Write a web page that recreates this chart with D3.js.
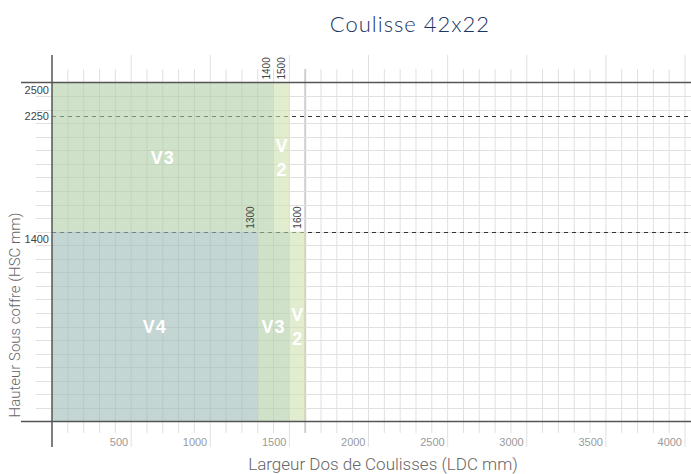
<!DOCTYPE html>
<html>
<head>
<meta charset="utf-8">
<script src="https://cdn.jsdelivr.net/npm/d3@7"></script>
<style>
  body { margin: 0; background: #fff; }
  svg { display: block; }
  text { font-family: 'Liberation Sans', Arial, sans-serif; }
</style>
</head>
<body>
<svg width="691" height="474"></svg>
<script>
// zones in mm
var zoneLabels = ['V3', 'V2', 'V4', 'V3', 'V2'];
var zoneX0 = [0, 1400, 0, 1300, 1500];
var zoneX1 = [1400, 1500, 1300, 1500, 1600];
var zoneY0 = [1400, 1400, 0, 0, 0];
var zoneY1 = [2500, 2500, 1400, 1400, 1400];
var zoneKind = ['v3', 'v2', 'v4', 'v3', 'v2'];

var xTickLabels = [500, 1000, 1500, 2000, 2500, 3000, 3500, 4000];
var yTickLabels = [1400, 2250, 2500];
var dashedLevels = [2250, 1400];
// rotated markers: value and the level they sit on
var markX = [1400, 1500, 1300, 1600];
var markLevel = [2500, 2500, 1400, 1400];

var svg = d3.select('svg');
var x = d3.scaleLinear().domain([0, 4000]).range([52, 685]);
var y = d3.scaleLinear().domain([0, 2500]).range([421.5, 82.5]);
var colors = {v3: 'rgb(175,205,163)', v2: 'rgb(207,225,177)', v4: 'rgb(155,187,182)'};

// vertical grid
var vGrid = d3.range(100, 4300, 100);
svg.append('g').selectAll('line').data(vGrid).enter()
  .append('line')
  .attr('x1', function (d) { return x(d); })
  .attr('x2', function (d) { return x(d); })
  .attr('y1', function (d) { return d % 500 === 0 ? 55 : 69; })
  .attr('y2', function (d) { return d % 500 === 0 ? 447 : 433; })
  .style('stroke', function (d) { return d === 1600 ? '#cfcfcf' : '#e0e0e0'; })
  .style('stroke-width', function (d) { return d === 1600 ? 2 : 1; });

// horizontal grid
var hGrid = d3.range(100, 2500, 100);
svg.append('g').selectAll('line').data(hGrid).enter()
  .append('line')
  .attr('x1', 36).attr('x2', 691)
  .attr('y1', function (d) { return Math.round(y(d)) + 0.5; })
  .attr('y2', function (d) { return Math.round(y(d)) + 0.5; })
  .style('stroke', '#e0e0e0');

// dashed levels
svg.append('g').selectAll('line').data(dashedLevels).enter()
  .append('line')
  .attr('x1', 52).attr('x2', 691)
  .attr('y1', function (d) { return Math.round(y(d)) + 0.5; })
  .attr('y2', function (d) { return Math.round(y(d)) + 0.5; })
  .style('stroke', '#333')
  .style('stroke-dasharray', '4,4');

// zones
var zones = zoneLabels.map(function (l, i) {
  return {label: l, x0: zoneX0[i], x1: zoneX1[i], y0: zoneY0[i], y1: zoneY1[i], kind: zoneKind[i]};
});
svg.append('g').selectAll('rect').data(zones).enter()
  .append('rect')
  .attr('x', function (d) { return x(d.x0); })
  .attr('y', function (d) { return y(d.y1); })
  .attr('width', function (d) { return x(d.x1) - x(d.x0); })
  .attr('height', function (d) { return y(d.y0) - y(d.y1); })
  .style('fill', function (d) { return colors[d.kind]; })
  .style('opacity', 0.6);

// zone labels
var zl = svg.append('g').selectAll('text').data(zones).enter()
  .append('text')
  .attr('x', function (d) { return (x(d.x0) + x(d.x1)) / 2; })
  .attr('y', function (d) { return (y(d.y0) + y(d.y1)) / 2; })
  .attr('text-anchor', 'middle')
  .style('fill', '#fff')
  .style('font-weight', 'bold')
  .style('font-size', '18px');
zl.each(function (d) {
  var t = d3.select(this);
  var cx = (x(d.x0) + x(d.x1)) / 2;
  if (x(d.x1) - x(d.x0) < 20) {
    t.append('tspan').attr('x', cx).attr('dy', '-0.3em').text(d.label[0]);
    t.append('tspan').attr('x', cx).attr('dy', '1.35em').text(d.label.slice(1));
  } else {
    t.attr('dy', '0.36em').style('letter-spacing', '1px').text(d.label);
  }
});

// axes lines
var axes = svg.append('g').style('stroke', '#555').style('stroke-width', 1.5);
axes.append('line').attr('x1', 21).attr('x2', 691).attr('y1', y(0)).attr('y2', y(0));
axes.append('line').attr('x1', 21).attr('x2', 691).attr('y1', y(2500)).attr('y2', y(2500));
axes.append('line').attr('x1', x(0)).attr('x2', x(0)).attr('y1', 55).attr('y2', 447);

// x tick labels
svg.append('g').selectAll('text').data(xTickLabels).enter()
  .append('text')
  .attr('x', function (d) { return x(d) - 3; })
  .attr('y', 446)
  .attr('text-anchor', 'end')
  .style('fill', '#9a9a9a')
  .style('font-size', '11px')
  .text(function (d) { return d; });

// y tick labels
svg.append('g').selectAll('text').data(yTickLabels).enter()
  .append('text')
  .attr('x', 49)
  .attr('y', function (d) { return d === 2250 ? y(d) + 4 : y(d) + 11; })
  .attr('text-anchor', 'end')
  .style('fill', '#444')
  .style('font-size', '11px')
  .text(function (d) { return d; });

// rotated markers
svg.append('g').selectAll('text').data(markX).enter()
  .append('text')
  .attr('transform', function (d, i) {
    return 'translate(' + (x(d) - 4) + ',' + (y(markLevel[i]) - 3) + ') rotate(-90)';
  })
  .style('fill', '#444')
  .style('font-size', '10px')
  .text(function (d) { return d; });

// axis titles
svg.append('text')
  .attr('x', 383).attr('y', 470)
  .attr('text-anchor', 'middle')
  .style('fill', '#666')
  .style('font-size', '17px')
  .style('font-family', 'Roboto, sans-serif')
  .style('font-weight', 300)
  .text('Largeur Dos de Coulisses (LDC mm)');

svg.append('text')
  .attr('transform', 'translate(20,315) rotate(-90)')
  .attr('text-anchor', 'middle')
  .style('fill', '#666')
  .style('font-size', '15px')
  .style('font-family', 'Roboto, sans-serif')
  .style('font-weight', 300)
  .text('Hauteur Sous coffre (HSC mm)');

// title
svg.append('text')
  .attr('x', 410).attr('y', 32)
  .attr('text-anchor', 'middle')
  .style('fill', '#1a3566')
  .style('font-size', '22px')
  .style('font-family', 'Lato, sans-serif')
  .style('font-weight', 300)
  .style('letter-spacing', '1px')
  .text('Coulisse 42x22');
</script>
</body>
</html>
